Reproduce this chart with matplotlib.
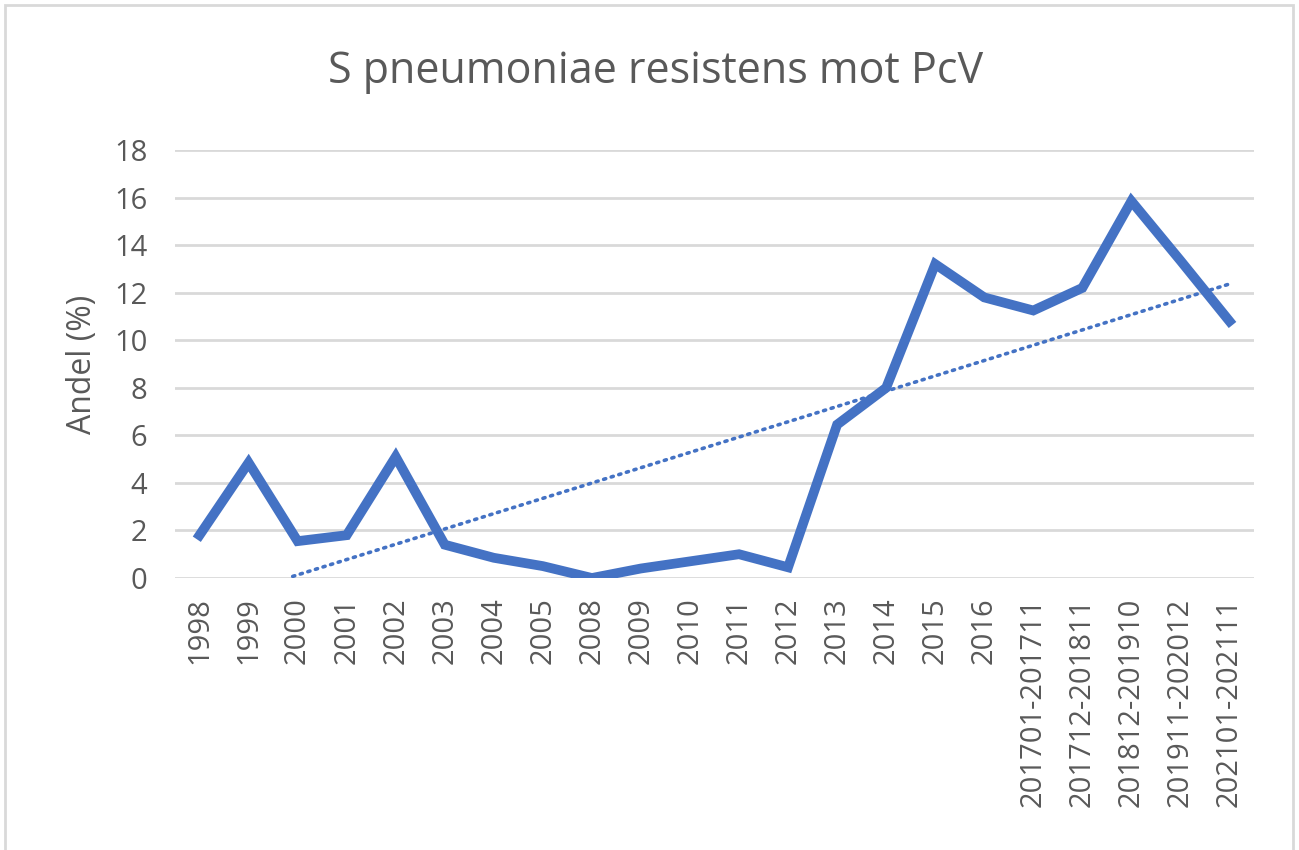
#!/usr/bin/env python3
import numpy as np
import matplotlib
matplotlib.use('Agg')
import matplotlib.pyplot as plt
from matplotlib.patches import Rectangle

# Data
periods = ['1998', '1999', '2000', '2001', '2002', '2003', '2004', '2005',
           '2008', '2009', '2010', '2011', '2012', '2013', '2014', '2015',
           '2016', '201701-201711', '201712-201811', '201812-201910',
           '201911-202012', '202101-202111']
andel = [1.8, 4.85, 1.55, 1.8, 5.1, 1.4, 0.85, 0.5,
         0.0, 0.4, 0.7, 1.0, 0.45, 6.45, 8.0, 13.2,
         11.8, 11.25, 12.2, 15.85, 13.35, 10.8]
y_ticks = [0, 2, 4, 6, 8, 10, 12, 14, 16, 18]

BLUE = '#4472C4'
GREY = '#595959'

plt.rcParams['font.family'] = ['Open Sans', 'DejaVu Sans']

fig = plt.figure(figsize=(12.99, 8.5), dpi=100)
ax = fig.add_axes([175 / 1299, 1 - 578 / 850, (1254 - 175) / 1299, (578 - 150) / 850])

x = np.arange(len(periods))
ax.plot(x, andel, color=BLUE, lw=7, solid_joinstyle='miter', zorder=3)

# linear trendline (like Excel), clipped at the axis floor
k, m = np.polyfit(x, andel, 1)
xt = np.linspace(0, len(periods) - 1, 200)
yt = k * xt + m
keep = yt >= 0
ax.plot(xt[keep], yt[keep], color=BLUE, lw=2.6, ls=(0, (0.6, 1.6)),
        dash_capstyle='round', zorder=4)

ax.set_xlim(-0.5, len(periods) - 0.5)
ax.set_ylim(0, 18)
ax.set_yticks(y_ticks)
ax.set_xticks(x)
ax.set_xticklabels(periods, rotation=90)
ax.tick_params(length=0, colors=GREY)
ax.tick_params(axis='y', labelsize=21, pad=20)
ax.tick_params(axis='x', labelsize=21, pad=14)
ax.grid(axis='y', color='#d9d9d9', lw=2)
ax.set_axisbelow(True)
for s in ax.spines.values():
    s.set_visible(False)
ax.set_ylabel('Andel (%)', color=GREY, fontsize=23)
ax.yaxis.set_label_coords(-0.07, 0.5)

fig.text(0.505, 1 - 72 / 850, 'S pneumoniae resistens mot PcV', ha='center', va='center',
         color=GREY, fontsize=31)

# outer chart border
fig.patches.append(Rectangle((5 / 1299, -0.01), 1288 / 1299, 1 - 5 / 850 + 0.01,
                             transform=fig.transFigure, fill=False,
                             edgecolor='#d9d9d9', lw=2))

fig.savefig('out.png', dpi=100)
